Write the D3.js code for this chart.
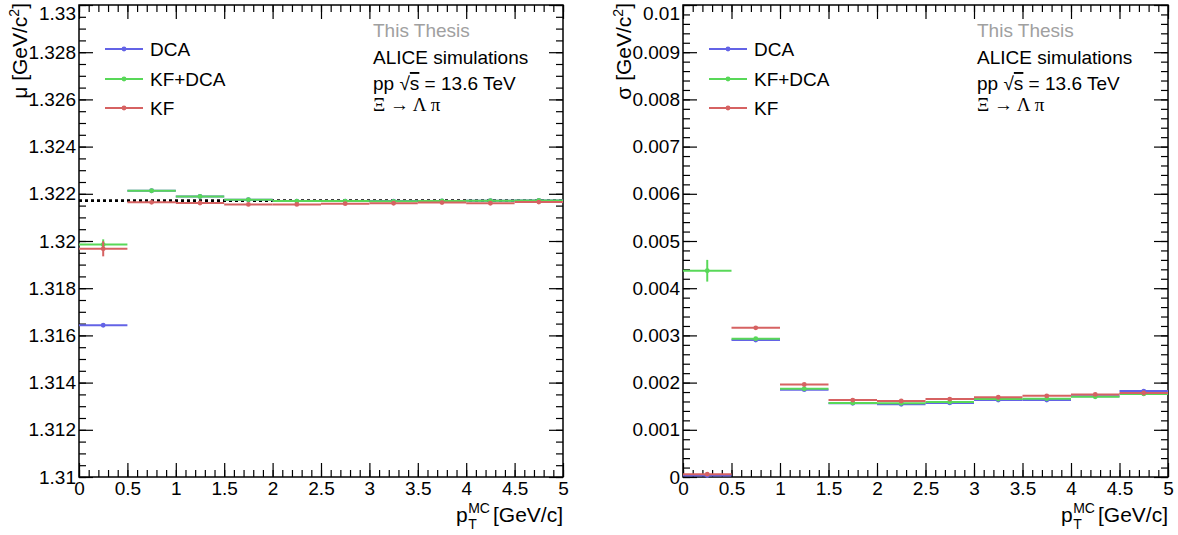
<!DOCTYPE html>
<html><head><meta charset="utf-8">
<script src="https://cdn.jsdelivr.net/npm/d3@7"></script>
<style>
html,body{margin:0;padding:0;background:#fff;}
svg{display:block;font-family:"Liberation Sans",Arial,sans-serif;}
</style></head>
<body><svg id="c" width="1178" height="535"></svg>
<script>
// ---------- data ----------
const binEdges = [0, 0.5, 1, 1.5, 2, 2.5, 3, 3.5, 4, 4.5, 5];
const seriesNames = ["DCA", "KF+DCA", "KF"];
const seriesColors = ["#6363e6", "#58d858", "#d66262"];

const muDCA      = [1.31643, 1.32213, 1.32189, 1.32175, 1.32169, 1.32169, 1.32169, 1.32170, 1.32171, 1.32172];
const muDCAErr   = [0.00002, 0.00002, 0.00002, 0.00002, 0.00002, 0.00002, 0.00002, 0.00002, 0.00002, 0.00002];
const muKFDCA    = [1.31985, 1.32213, 1.32189, 1.32175, 1.32169, 1.32169, 1.32168, 1.32170, 1.32171, 1.32172];
const muKFDCAErr = [0.00022, 0.00003, 0.00002, 0.00002, 0.00002, 0.00002, 0.00002, 0.00002, 0.00002, 0.00002];
const muKF       = [1.31967, 1.32164, 1.32161, 1.32155, 1.32155, 1.32158, 1.32160, 1.32163, 1.32160, 1.32165];
const muKFErr    = [0.00032, 0.00003, 0.00002, 0.00002, 0.00002, 0.00002, 0.00002, 0.00002, 0.00002, 0.00002];

const sigDCA      = [0.00003, 0.00290, 0.00185, 0.00156, 0.00154, 0.00157, 0.00163, 0.00163, 0.00171, 0.00182];
const sigDCAErr   = [0.00001, 0.00002, 0.00002, 0.00002, 0.00002, 0.00002, 0.00002, 0.00002, 0.00002, 0.00002];
const sigKFDCA    = [0.00437, 0.00293, 0.00187, 0.00157, 0.00156, 0.00159, 0.00165, 0.00166, 0.00170, 0.00176];
const sigKFDCAErr = [0.00023, 0.00003, 0.00002, 0.00002, 0.00002, 0.00002, 0.00002, 0.00002, 0.00002, 0.00002];
const sigKF       = [0.00006, 0.00316, 0.00196, 0.00163, 0.00161, 0.00165, 0.00169, 0.00172, 0.00175, 0.00178];
const sigKFErr    = [0.00001, 0.00003, 0.00002, 0.00002, 0.00002, 0.00002, 0.00002, 0.00002, 0.00002, 0.00002];

const xTicks = [0, 0.5, 1, 1.5, 2, 2.5, 3, 3.5, 4, 4.5, 5];
const muTicks = [1.31, 1.312, 1.314, 1.316, 1.318, 1.32, 1.322, 1.324, 1.326, 1.328, 1.33];
const sigTicks = [0, 0.001, 0.002, 0.003, 0.004, 0.005, 0.006, 0.007, 0.008, 0.009, 0.01];
const xiMass = 1.32171;

const textLines = ["This Thesis", "ALICE simulations"];

// ---------- drawing ----------
const svg = d3.select("#c");
const fmt = d => String(+(+d).toFixed(4));

function panel(cfg) {
  const g = svg.append("g");
  const x = d3.scaleLinear().domain([0, 5]).range([cfg.x0, cfg.x1]);
  const y = d3.scaleLinear().domain(cfg.yDomain).range([cfg.y1, cfg.y0]);

  const xMinor = d3.range(0, 5.0001, 0.1).map(v => +v.toFixed(2));
  const nMin = Math.round((cfg.yDomain[1] - cfg.yDomain[0]) / cfg.yMinorStep);
  const yMinor = d3.range(0, nMin + 1).map(i => +(cfg.yDomain[0] + i * cfg.yMinorStep).toFixed(6));

  function styleAxis(sel) {
    sel.select(".domain").remove();
    sel.selectAll("line").attr("stroke", "#000").attr("stroke-width", 1.2);
    sel.selectAll("text").attr("font-size", 19).attr("fill", "#000")
      .attr("font-family", '"Liberation Sans",Arial,sans-serif');
  }
  // bottom
  g.append("g").attr("transform", `translate(0,${cfg.y1})`)
    .call(d3.axisBottom(x).tickValues(xMinor).tickSize(-7).tickFormat("")).call(styleAxis);
  g.append("g").attr("transform", `translate(0,${cfg.y1})`)
    .call(d3.axisBottom(x).tickValues(xTicks).tickSize(-14).tickPadding(5).tickFormat(fmt)).call(styleAxis);
  // top
  g.append("g").attr("transform", `translate(0,${cfg.y0})`)
    .call(d3.axisTop(x).tickValues(xMinor).tickSize(-7).tickFormat("")).call(styleAxis);
  g.append("g").attr("transform", `translate(0,${cfg.y0})`)
    .call(d3.axisTop(x).tickValues(xTicks).tickSize(-14).tickFormat("")).call(styleAxis);
  // left
  g.append("g").attr("transform", `translate(${cfg.x0},0)`)
    .call(d3.axisLeft(y).tickValues(yMinor).tickSize(-7).tickFormat("")).call(styleAxis);
  const la = g.append("g").attr("transform", `translate(${cfg.x0},0)`)
    .call(d3.axisLeft(y).tickValues(cfg.yTicks).tickSize(-14).tickPadding(3).tickFormat(fmt)).call(styleAxis);
  // keep the top label inside the picture
  la.selectAll(".tick").filter(d => d === cfg.yDomain[1]).select("text").attr("dy", "0.75em");
  // right
  g.append("g").attr("transform", `translate(${cfg.x1},0)`)
    .call(d3.axisRight(y).tickValues(yMinor).tickSize(-7).tickFormat("")).call(styleAxis);
  g.append("g").attr("transform", `translate(${cfg.x1},0)`)
    .call(d3.axisRight(y).tickValues(cfg.yTicks).tickSize(-14).tickFormat("")).call(styleAxis);

  // frame
  g.append("rect").attr("x", cfg.x0).attr("y", cfg.y0)
    .attr("width", cfg.x1 - cfg.x0).attr("height", cfg.y1 - cfg.y0)
    .attr("fill", "none").attr("stroke", "#000").attr("stroke-width", 1.5);

  // reference line
  if (cfg.refLine !== undefined) {
    g.append("line").attr("x1", x(0)).attr("x2", x(5))
      .attr("y1", y(cfg.refLine)).attr("y2", y(cfg.refLine))
      .attr("stroke", "#000").attr("stroke-width", 2.6).attr("stroke-dasharray", "3,3");
  }

  // series
  cfg.series.forEach((s, si) => {
    const col = seriesColors[si];
    const sg = g.append("g");
    const bins = s.vals.map((v, i) => ({ lo: binEdges[i], hi: binEdges[i + 1], v, e: s.errs[i] }));
    sg.selectAll("line.h").data(bins).join("line").attr("class", "h")
      .attr("x1", d => x(d.lo)).attr("x2", d => x(d.hi))
      .attr("y1", d => y(d.v)).attr("y2", d => y(d.v))
      .attr("stroke", col).attr("stroke-width", 2);
    sg.selectAll("line.v").data(bins).join("line").attr("class", "v")
      .attr("x1", d => x((d.lo + d.hi) / 2)).attr("x2", d => x((d.lo + d.hi) / 2))
      .attr("y1", d => y(d.v - d.e)).attr("y2", d => y(d.v + d.e))
      .attr("stroke", col).attr("stroke-width", 2);
    sg.selectAll("circle").data(bins).join("circle")
      .attr("cx", d => x((d.lo + d.hi) / 2)).attr("cy", d => y(d.v))
      .attr("r", 2.4).attr("fill", col);
  });

  // legend
  const legY = [49, 79, 108];
  seriesNames.forEach((n, i) => {
    const lx = cfg.x0 + 26;
    g.append("line").attr("x1", lx).attr("x2", lx + 38).attr("y1", legY[i]).attr("y2", legY[i])
      .attr("stroke", seriesColors[i]).attr("stroke-width", 2);
    g.append("circle").attr("cx", lx + 19).attr("cy", legY[i]).attr("r", 2.4).attr("fill", seriesColors[i]);
    g.append("text").attr("x", lx + 45).attr("y", legY[i] + 7).attr("font-size", 19).text(n);
  });

  // text block
  const tx = cfg.x0 + 294;
  g.append("text").attr("x", tx).attr("y", 37).attr("font-size", 19).attr("fill", "#a0a0a0").text(textLines[0]);
  g.append("text").attr("x", tx).attr("y", 63.5).attr("font-size", 19).text(textLines[1]);
  const t3 = g.append("text").attr("x", tx).attr("y", 90).attr("font-size", 19);
  t3.append("tspan").text("pp  √");
  t3.append("tspan").attr("text-decoration", "overline").style("text-decoration", "overline").text("s");
  t3.append("tspan").text(" = 13.6 TeV");
  g.append("text").attr("x", tx).attr("y", 110.5).attr("font-size", 19)
    .attr("font-family", '"Liberation Serif","DejaVu Serif",serif').text("Ξ → Λ π");

  // y title
  const yt = g.append("text").attr("transform", `translate(${cfg.x0 - 52},3) rotate(-90)`)
    .attr("text-anchor", "end").attr("font-size", 21);
  yt.append("tspan").text(cfg.yTitle + " [GeV/c");
  yt.append("tspan").attr("dy", -8).attr("font-size", 14).text("2");
  yt.append("tspan").attr("dy", 8).text("]");

  // x title
  const br = g.append("text").attr("x", cfg.x1).attr("y", 522).attr("text-anchor", "end")
    .attr("font-size", 21).text("[GeV/c]");
  const bw = br.node().getComputedTextLength();
  const mcEnd = cfg.x1 - bw - 3;
  const mc = g.append("text").attr("x", mcEnd).attr("y", 513).attr("text-anchor", "end")
    .attr("font-size", 14).text("MC");
  const mw = mc.node().getComputedTextLength();
  g.append("text").attr("x", mcEnd - mw).attr("y", 529).attr("font-size", 14).text("T");
  g.append("text").attr("x", mcEnd - mw - 0.5).attr("y", 522).attr("text-anchor", "end")
    .attr("font-size", 21).text("p");
}

panel({
  x0: 79, x1: 563, y0: 5, y1: 477,
  yDomain: [1.31, 1.33], yTicks: muTicks, yMinorStep: 0.0005,
  refLine: xiMass, yTitle: "μ",
  series: [{ vals: muDCA, errs: muDCAErr }, { vals: muKFDCA, errs: muKFDCAErr }, { vals: muKF, errs: muKFErr }]
});
panel({
  x0: 683, x1: 1168, y0: 5, y1: 477,
  yDomain: [0, 0.01], yTicks: sigTicks, yMinorStep: 0.0002,
  yTitle: "σ",
  series: [{ vals: sigDCA, errs: sigDCAErr }, { vals: sigKFDCA, errs: sigKFDCAErr }, { vals: sigKF, errs: sigKFErr }]
});
</script></body></html>
